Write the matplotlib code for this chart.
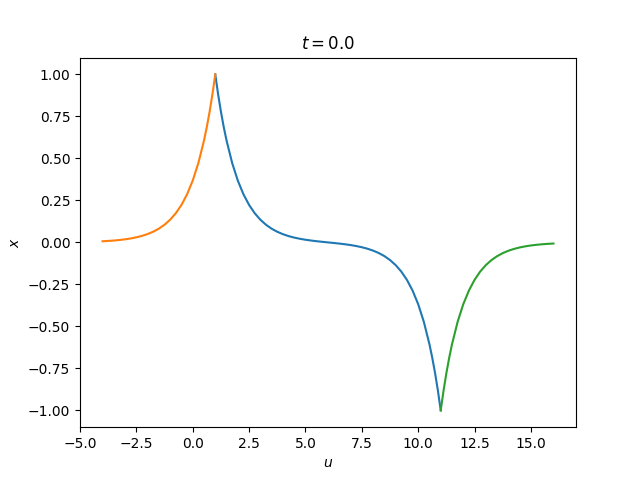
import numpy as np
import matplotlib
matplotlib.use('Agg')
import matplotlib.pyplot as plt

# ---------------------------------------
# left branch, u = -4 .. 1 (denser near the peak)
u_left = [-4.0, -3.75, -3.5, -3.25, -3.0, -2.75, -2.5, -2.25, -2.0, -1.75,
          -1.5, -1.25, -1.0, -0.75, -0.5, -0.25, 0.0, 0.25, 0.5, 0.625,
          0.75, 0.875, 1.0]
x_left = [0.0067, 0.0087, 0.0111, 0.0143, 0.0183, 0.0235, 0.0302, 0.0388,
          0.0498, 0.0639, 0.0821, 0.1054, 0.1353, 0.1738, 0.2231, 0.2865,
          0.3679, 0.4724, 0.6065, 0.6873, 0.7788, 0.8825, 1.0]

# middle branch, u = 1 .. 11
u_mid = [1.0, 1.125, 1.25, 1.375, 1.5, 1.75, 2.0, 2.25, 2.5, 2.75, 3.0,
         3.25, 3.5, 3.75, 4.0, 4.25, 4.5, 4.75, 5.0, 5.25, 5.5, 5.75, 6.0,
         6.25, 6.5, 6.75, 7.0, 7.25, 7.5, 7.75, 8.0, 8.25, 8.5, 8.75, 9.0,
         9.25, 9.5, 9.75, 10.0, 10.25, 10.5, 10.625, 10.75, 10.875, 11.0]
x_mid = [1.0, 0.8824, 0.7787, 0.6872, 0.6064, 0.4723, 0.3678, 0.2863,
         0.2229, 0.1735, 0.1350, 0.1050, 0.0815, 0.0632, 0.0489, 0.0376,
         0.0287, 0.0216, 0.0158, 0.0111, 0.0070, 0.0034, 0.0,
         -0.0034, -0.0070, -0.0111, -0.0158, -0.0216, -0.0287, -0.0376,
         -0.0489, -0.0632, -0.0815, -0.1050, -0.1350, -0.1735, -0.2229,
         -0.2863, -0.3678, -0.4723, -0.6064, -0.6872, -0.7787, -0.8824, -1.0]

# right branch, u = 11 .. 16
u_right = [11.0, 11.125, 11.25, 11.375, 11.5, 11.75, 12.0, 12.25, 12.5,
           12.75, 13.0, 13.25, 13.5, 13.75, 14.0, 14.25, 14.5, 14.75, 15.0,
           15.25, 15.5, 15.75, 16.0]
x_right = [-1.0, -0.8825, -0.7788, -0.6873, -0.6065, -0.4724, -0.3679,
           -0.2865, -0.2231, -0.1738, -0.1353, -0.1054, -0.0821, -0.0639,
           -0.0498, -0.0388, -0.0302, -0.0235, -0.0183, -0.0143, -0.0111,
           -0.0087, -0.0067]

t_val = 0.0

# PLOT
# ----
fig, ax = plt.subplots(figsize=(6.4, 4.8), dpi=100)
ax.plot(u_mid, x_mid, color='C0')
ax.plot(u_left, x_left, color='C1')
ax.plot(u_right, x_right, color='C2')
ax.set_title('$t = {0}$'.format(t_val))
ax.set_xlabel('$u$')
ax.set_ylabel('$x$')
fig.savefig('out.png')
